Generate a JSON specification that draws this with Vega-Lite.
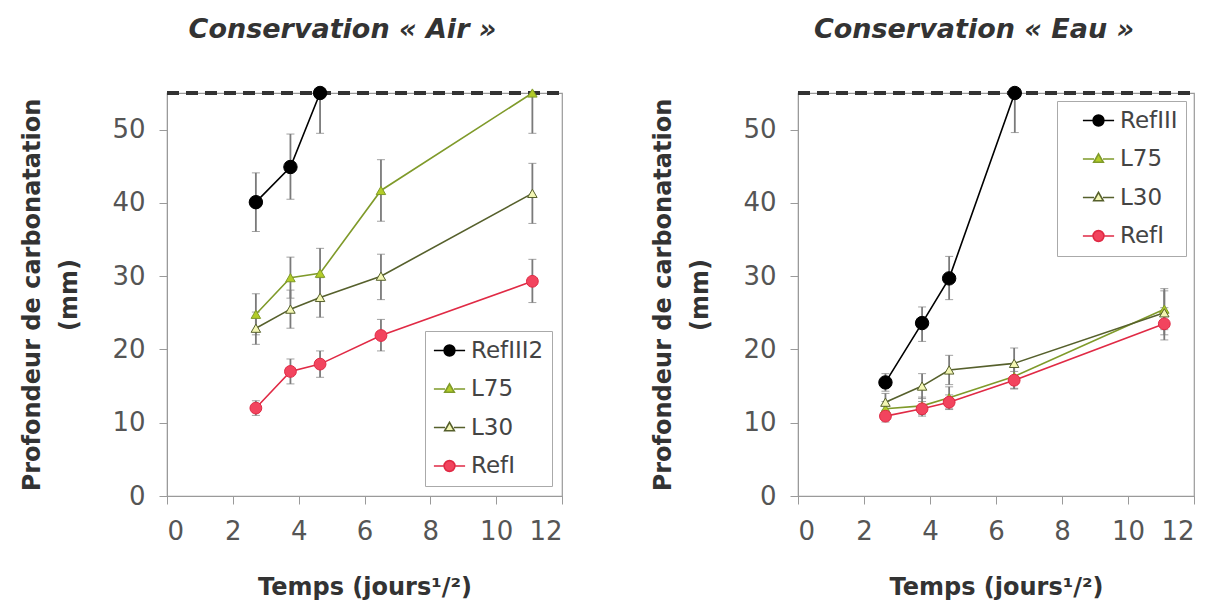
{
  "$schema": "https://vega.github.io/schema/vega-lite/v6.json",
  "background": "white",
  "padding": {"left": 20, "top": 15, "right": 5, "bottom": 5},
  "spacing": 86,
  "resolve": {"scale": {"stroke": "independent"}},
  "config": {
    "view": {"stroke": "#9a9a9a", "strokeWidth": 1.2},
    "font": "DejaVu Sans",
    "axis": {
      "grid": false, "domainColor": "#9a9a9a", "tickColor": "#9a9a9a", "tickSize": 8,
      "labelFont": "DejaVu Sans", "labelFontSize": 26, "labelColor": "#555",
      "titleFont": "DejaVu Sans", "titleFontSize": 24, "titleFontWeight": "bold", "titleColor": "#333"
    },
    "legend": {
      "title": null, "fillColor": "white", "strokeColor": "#aaaaaa", "padding": 8,
      "labelFont": "DejaVu Sans", "labelFontSize": 23, "labelColor": "#444",
      "symbolSize": 144, "symbolStrokeWidth": 1.6, "rowPadding": 14.5, "labelOffset": 10
    },
    "title": {"font": "DejaVu Sans", "fontSize": 27, "fontWeight": "bold", "fontStyle": "italic", "color": "#333", "frame": "group", "dx": -22, "offset": 40}
  },
  "datasets": {
    "air": [
      {"series": "RefIII2", "x": 2.7, "y": 40.1, "lo": 36.1, "hi": 44.1},
      {"series": "RefIII2", "x": 3.75, "y": 44.9, "lo": 40.5, "hi": 49.4},
      {"series": "RefIII2", "x": 4.65, "y": 55, "lo": 49.5, "hi": 60.5},
      {"series": "L75", "x": 2.7, "y": 24.8, "lo": 22.0, "hi": 27.6},
      {"series": "L75", "x": 3.75, "y": 29.8, "lo": 27.0, "hi": 32.6},
      {"series": "L75", "x": 4.65, "y": 30.4, "lo": 27.0, "hi": 33.8},
      {"series": "L75", "x": 6.5, "y": 41.7, "lo": 37.5, "hi": 45.9},
      {"series": "L75", "x": 11.1, "y": 55, "lo": 49.5, "hi": 60.5},
      {"series": "L30", "x": 2.7, "y": 22.9, "lo": 20.7, "hi": 25.1},
      {"series": "L30", "x": 3.75, "y": 25.5, "lo": 22.9, "hi": 28.1},
      {"series": "L30", "x": 4.65, "y": 27.1, "lo": 24.4, "hi": 29.8},
      {"series": "L30", "x": 6.5, "y": 30.0, "lo": 26.8, "hi": 33.0},
      {"series": "L30", "x": 11.1, "y": 41.3, "lo": 37.2, "hi": 45.4},
      {"series": "RefI", "x": 2.7, "y": 12.0, "lo": 11.0, "hi": 13.0},
      {"series": "RefI", "x": 3.75, "y": 17.0, "lo": 15.3, "hi": 18.7},
      {"series": "RefI", "x": 4.65, "y": 18.0, "lo": 16.2, "hi": 19.8},
      {"series": "RefI", "x": 6.5, "y": 21.9, "lo": 19.8, "hi": 24.1},
      {"series": "RefI", "x": 11.1, "y": 29.3, "lo": 26.4, "hi": 32.3}
    ],
    "eau": [
      {"series": "RefIII", "x": 2.65, "y": 15.5, "lo": 14.3, "hi": 16.7},
      {"series": "RefIII", "x": 3.76, "y": 23.6, "lo": 21.1, "hi": 25.8},
      {"series": "RefIII", "x": 4.58, "y": 29.7, "lo": 26.8, "hi": 32.7},
      {"series": "RefIII", "x": 6.57, "y": 55, "lo": 49.6, "hi": 60.4},
      {"series": "L75", "x": 2.65, "y": 11.9, "lo": 10.9, "hi": 12.9},
      {"series": "L75", "x": 3.76, "y": 12.3, "lo": 11.1, "hi": 13.5},
      {"series": "L75", "x": 4.58, "y": 13.4, "lo": 11.9, "hi": 14.9},
      {"series": "L75", "x": 6.55, "y": 16.3, "lo": 14.7, "hi": 17.9},
      {"series": "L75", "x": 11.1, "y": 25.5, "lo": 22.7, "hi": 28.3},
      {"series": "L30", "x": 2.65, "y": 12.8, "lo": 11.6, "hi": 14.0},
      {"series": "L30", "x": 3.76, "y": 15.0, "lo": 13.3, "hi": 16.7},
      {"series": "L30", "x": 4.58, "y": 17.2, "lo": 15.2, "hi": 19.2},
      {"series": "L30", "x": 6.55, "y": 18.1, "lo": 16.0, "hi": 20.2},
      {"series": "L30", "x": 11.1, "y": 25.0, "lo": 22.0, "hi": 28.0},
      {"series": "RefI", "x": 2.65, "y": 10.9, "lo": 10.1, "hi": 11.7},
      {"series": "RefI", "x": 3.76, "y": 11.9, "lo": 10.9, "hi": 12.9},
      {"series": "RefI", "x": 4.58, "y": 12.8, "lo": 11.8, "hi": 13.8},
      {"series": "RefI", "x": 6.55, "y": 15.8, "lo": 14.6, "hi": 17.0},
      {"series": "RefI", "x": 11.1, "y": 23.5, "lo": 21.3, "hi": 25.7}
    ]
  },
  "hconcat": [
    {
      "width": 395, "height": 403,
      "title": {"text": "Conservation « Air »"},
      "data": {"name": "air"},
      "encoding": {
        "x": {"field": "x", "type": "quantitative", "scale": {"domain": [0, 12], "nice": false},
              "axis": {"values": [0, 2, 4, 6, 8, 10, 12], "labelPadding": 14, "titlePadding": 31, "title": "Temps (jours¹/²)"}},
        "y": {"field": "y", "type": "quantitative", "scale": {"domain": [0, 55], "nice": false},
              "axis": {"values": [0, 10, 20, 30, 40, 50], "labelPadding": 14, "titlePadding": 30, "titleLineHeight": 37, "title": ["Profondeur de carbonatation", "(mm)"]}}
      },
      "layer": [
        {"mark": {"type": "rule", "strokeDash": [12, 7], "strokeWidth": 3, "color": "#333"}, "encoding": {"y": {"datum": 55}, "x": {"value": 0}, "x2": {"value": "width"}}},
        {"mark": {"type": "errorbar", "clip": true, "ticks": {"size": 8, "color": "#7a7a7a", "strokeWidth": 1.5}, "rule": {"color": "#7a7a7a", "strokeWidth": 1.8}},
         "encoding": {"y": {"field": "lo", "type": "quantitative"}, "y2": {"field": "hi"}}},
        {"mark": {"type": "line", "strokeWidth": 1.6},
         "encoding": {
           "stroke": {"field": "series", "type": "nominal",
             "scale": {"domain": ["RefIII2", "L75", "L30", "RefI"], "range": ["#000000", "#7f9a2a", "#56602c", "#e02a45"]},
             "legend": {
               "orient": "bottom-right", "offset": 10, "symbolOffset": 5,
               "encode": {"symbols": {"update": {
                 "shape": {"signal": "indexof(datum.value, 'Ref') === 0 ? 'M-2.6,0H-0.9M0.9,0H2.6M-0.9,0A0.9,0.9 0 1,0 0.9,0A0.9,0.9 0 1,0 -0.9,0Z' : 'M-2.6,0H-0.75M0.75,0H2.6M0,-0.85L0.8,0.55L-0.8,0.55Z'"},
                 "fill": {"signal": "datum.value === 'L75' ? '#b3cc29' : datum.value === 'L30' ? '#f3f6b4' : datum.value === 'RefI' ? '#f2445e' : '#000000'"},
                 "opacity": {"value": 1}
               }}}
             }}
         }},
        {"transform": [{"filter": "datum.series === 'RefIII2'"}],
         "mark": {"type": "point", "shape": "circle", "filled": true, "fill": "#000000", "stroke": "#000000", "strokeWidth": 1, "size": 180, "opacity": 1}},
        {"transform": [{"filter": "datum.series === 'L75'"}],
         "mark": {"type": "point", "shape": "triangle-up", "filled": true, "fill": "#b3cc29", "stroke": "#7f9a2a", "strokeWidth": 1, "size": 90, "opacity": 1}},
        {"transform": [{"filter": "datum.series === 'L30'"}],
         "mark": {"type": "point", "shape": "triangle-up", "filled": true, "fill": "#f3f6b4", "stroke": "#56602c", "strokeWidth": 1, "size": 90, "opacity": 1}},
        {"transform": [{"filter": "datum.series === 'RefI'"}],
         "mark": {"type": "point", "shape": "circle", "filled": true, "fill": "#f2445e", "stroke": "#e02a45", "strokeWidth": 1, "size": 140, "opacity": 1}}
      ]
    },
    {
      "width": 396, "height": 403,
      "title": {"text": "Conservation « Eau »"},
      "data": {"name": "eau"},
      "encoding": {
        "x": {"field": "x", "type": "quantitative", "scale": {"domain": [0, 12], "nice": false},
              "axis": {"values": [0, 2, 4, 6, 8, 10, 12], "labelPadding": 14, "titlePadding": 31, "title": "Temps (jours¹/²)"}},
        "y": {"field": "y", "type": "quantitative", "scale": {"domain": [0, 55], "nice": false},
              "axis": {"values": [0, 10, 20, 30, 40, 50], "labelPadding": 14, "titlePadding": 30, "titleLineHeight": 37, "title": ["Profondeur de carbonatation", "(mm)"]}}
      },
      "layer": [
        {"mark": {"type": "rule", "strokeDash": [12, 7], "strokeWidth": 3, "color": "#333"}, "encoding": {"y": {"datum": 55}, "x": {"value": 0}, "x2": {"value": "width"}}},
        {"mark": {"type": "errorbar", "clip": true, "ticks": {"size": 8, "color": "#7a7a7a", "strokeWidth": 1.5}, "rule": {"color": "#7a7a7a", "strokeWidth": 1.8}},
         "encoding": {"y": {"field": "lo", "type": "quantitative"}, "y2": {"field": "hi"}}},
        {"mark": {"type": "line", "strokeWidth": 1.6},
         "encoding": {
           "stroke": {"field": "series", "type": "nominal",
             "scale": {"domain": ["RefIII", "L75", "L30", "RefI"], "range": ["#000000", "#7f9a2a", "#56602c", "#e02a45"]},
             "legend": {
               "orient": "top-right", "offset": 8, "symbolOffset": 22,
               "encode": {"symbols": {"update": {
                 "shape": {"signal": "indexof(datum.value, 'Ref') === 0 ? 'M-2.6,0H-0.9M0.9,0H2.6M-0.9,0A0.9,0.9 0 1,0 0.9,0A0.9,0.9 0 1,0 -0.9,0Z' : 'M-2.6,0H-0.75M0.75,0H2.6M0,-0.85L0.8,0.55L-0.8,0.55Z'"},
                 "fill": {"signal": "datum.value === 'L75' ? '#b3cc29' : datum.value === 'L30' ? '#f3f6b4' : datum.value === 'RefI' ? '#f2445e' : '#000000'"},
                 "opacity": {"value": 1}
               }}}
             }}
         }},
        {"transform": [{"filter": "datum.series === 'RefIII'"}],
         "mark": {"type": "point", "shape": "circle", "filled": true, "fill": "#000000", "stroke": "#000000", "strokeWidth": 1, "size": 180, "opacity": 1}},
        {"transform": [{"filter": "datum.series === 'L75'"}],
         "mark": {"type": "point", "shape": "triangle-up", "filled": true, "fill": "#b3cc29", "stroke": "#7f9a2a", "strokeWidth": 1, "size": 90, "opacity": 1}},
        {"transform": [{"filter": "datum.series === 'L30'"}],
         "mark": {"type": "point", "shape": "triangle-up", "filled": true, "fill": "#f3f6b4", "stroke": "#56602c", "strokeWidth": 1, "size": 90, "opacity": 1}},
        {"transform": [{"filter": "datum.series === 'RefI'"}],
         "mark": {"type": "point", "shape": "circle", "filled": true, "fill": "#f2445e", "stroke": "#e02a45", "strokeWidth": 1, "size": 140, "opacity": 1}}
      ]
    }
  ]
}
